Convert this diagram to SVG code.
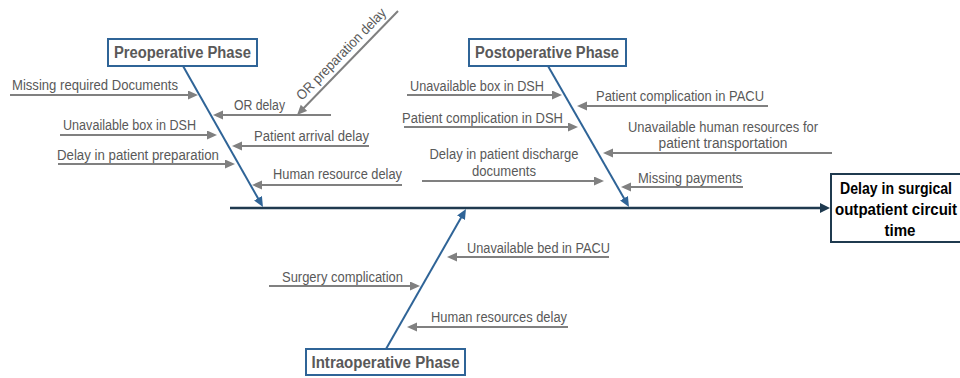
<svg xmlns="http://www.w3.org/2000/svg" width="960" height="378" viewBox="0 0 960 378">
<defs>
<style>
.lbl{font-family:"Liberation Sans","Open Sans",Arial,sans-serif;font-size:14px;fill:#595959}
.ttl{font-family:"Liberation Sans","Open Sans",Arial,sans-serif;font-size:16px;font-weight:bold;fill:#595959}
.eff{font-family:"Liberation Sans","Open Sans",Arial,sans-serif;font-size:16px;font-weight:bold;fill:#000}
.cause{stroke:#808080;stroke-width:2;fill:none}
.bone{stroke:#2f6497;stroke-width:2;fill:none}
.spine{stroke:#1f3a4f;stroke-width:2.5;fill:none}
.box{fill:#fff;stroke:#2f6497;stroke-width:2}
.ebox{fill:#fff;stroke:#1f3a4f;stroke-width:2}
</style>
<marker id="ag" markerUnits="userSpaceOnUse" markerWidth="12" markerHeight="10" refX="2" refY="4.5" orient="auto"><path d="M0,0 L10,4.5 L0,9 z" fill="#808080"/></marker>
<marker id="ab" markerUnits="userSpaceOnUse" markerWidth="12" markerHeight="10" refX="2" refY="4.5" orient="auto"><path d="M0,0 L10,4.5 L0,9 z" fill="#2f6497"/></marker>
<marker id="as" markerUnits="userSpaceOnUse" markerWidth="12" markerHeight="12" refX="2" refY="5" orient="auto"><path d="M0,0 L10,5 L0,10 z" fill="#1f3a4f"/></marker>
</defs>

<g id="connectors">
<line class="spine" x1="230" y1="208" x2="822" y2="208" marker-end="url(#as)"/>
<line class="bone" x1="183" y1="66" x2="259" y2="200" marker-end="url(#ab)"/>
<line class="bone" x1="548" y1="66" x2="625" y2="200" marker-end="url(#ab)"/>
<line class="bone" x1="386" y1="349" x2="462" y2="216" marker-end="url(#ab)"/>

<line class="cause" x1="10" y1="95" x2="190" y2="95" marker-end="url(#ag)"/>
<line class="cause" x1="331" y1="115" x2="221" y2="115" marker-end="url(#ag)"/>
<line class="cause" x1="398" y1="11" x2="302.6" y2="109.3" marker-end="url(#ag)"/>
<line class="cause" x1="60" y1="135" x2="209" y2="135" marker-end="url(#ag)"/>
<line class="cause" x1="369" y1="146" x2="240" y2="146" marker-end="url(#ag)"/>
<line class="cause" x1="58" y1="164" x2="227" y2="164" marker-end="url(#ag)"/>
<line class="cause" x1="402" y1="185" x2="260" y2="185" marker-end="url(#ag)"/>

<line class="cause" x1="407" y1="95" x2="554" y2="95" marker-end="url(#ag)"/>
<line class="cause" x1="768" y1="106" x2="585" y2="106" marker-end="url(#ag)"/>
<line class="cause" x1="404" y1="127" x2="570" y2="127" marker-end="url(#ag)"/>
<line class="cause" x1="832" y1="153" x2="611" y2="153" marker-end="url(#ag)"/>
<line class="cause" x1="422" y1="181" x2="596" y2="181" marker-end="url(#ag)"/>
<line class="cause" x1="743" y1="187" x2="629" y2="187" marker-end="url(#ag)"/>

<line class="cause" x1="609" y1="257" x2="455" y2="257" marker-end="url(#ag)"/>
<line class="cause" x1="269" y1="286" x2="412" y2="286" marker-end="url(#ag)"/>
<line class="cause" x1="568" y1="327" x2="415" y2="327" marker-end="url(#ag)"/>
</g>

<g id="preoperative">
<rect class="box" x="108" y="39" width="149" height="27"/>
<text class="ttl" x="182.5" y="58" text-anchor="middle" textLength="137" lengthAdjust="spacingAndGlyphs">Preoperative Phase</text>
<text class="lbl" x="12" y="90" textLength="166" lengthAdjust="spacingAndGlyphs">Missing required Documents</text>
<text class="lbl" x="234" y="110" textLength="51" lengthAdjust="spacingAndGlyphs">OR delay</text>
<text class="lbl" transform="translate(302,101) rotate(-45.8)" textLength="122" lengthAdjust="spacingAndGlyphs">OR preparation delay</text>
<text class="lbl" x="63" y="130" textLength="133" lengthAdjust="spacingAndGlyphs">Unavailable box in DSH</text>
<text class="lbl" x="254" y="141" textLength="115" lengthAdjust="spacingAndGlyphs">Patient arrival delay</text>
<text class="lbl" x="57" y="160" textLength="162" lengthAdjust="spacingAndGlyphs">Delay in patient preparation</text>
<text class="lbl" x="273" y="179" textLength="129" lengthAdjust="spacingAndGlyphs">Human resource delay</text>
</g>

<g id="postoperative">
<rect class="box" x="469" y="39" width="157" height="27"/>
<text class="ttl" x="547" y="58" text-anchor="middle" textLength="144" lengthAdjust="spacingAndGlyphs">Postoperative Phase</text>
<text class="lbl" x="410" y="91" textLength="134" lengthAdjust="spacingAndGlyphs">Unavailable box in DSH</text>
<text class="lbl" x="596" y="101" textLength="168" lengthAdjust="spacingAndGlyphs">Patient complication in PACU</text>
<text class="lbl" x="402" y="123" textLength="161" lengthAdjust="spacingAndGlyphs">Patient complication in DSH</text>
<text class="lbl" x="723" y="132" text-anchor="middle" textLength="190" lengthAdjust="spacingAndGlyphs">Unavailable human resources for</text>
<text class="lbl" x="723" y="148" text-anchor="middle" textLength="129" lengthAdjust="spacingAndGlyphs">patient transportation</text>
<text class="lbl" x="504" y="159" text-anchor="middle" textLength="149" lengthAdjust="spacingAndGlyphs">Delay in patient discharge</text>
<text class="lbl" x="504" y="176" text-anchor="middle" textLength="64" lengthAdjust="spacingAndGlyphs">documents</text>
<text class="lbl" x="638" y="183" textLength="104" lengthAdjust="spacingAndGlyphs">Missing payments</text>
</g>

<g id="intraoperative">
<rect class="box" x="306" y="349" width="159" height="26"/>
<text class="ttl" x="385.5" y="368" text-anchor="middle" textLength="148" lengthAdjust="spacingAndGlyphs">Intraoperative Phase</text>
<text class="lbl" x="467" y="253" textLength="143" lengthAdjust="spacingAndGlyphs">Unavailable bed in PACU</text>
<text class="lbl" x="282" y="282" textLength="121" lengthAdjust="spacingAndGlyphs">Surgery complication</text>
<text class="lbl" x="431" y="322" textLength="136" lengthAdjust="spacingAndGlyphs">Human resources delay</text>
</g>

<g id="effect">
<rect class="ebox" x="831" y="174" width="140" height="68"/>
<text class="eff" x="896" y="194" text-anchor="middle" textLength="112" lengthAdjust="spacingAndGlyphs">Delay in surgical</text>
<text class="eff" x="896" y="215" text-anchor="middle" textLength="122" lengthAdjust="spacingAndGlyphs">outpatient circuit</text>
<text class="eff" x="900" y="236" text-anchor="middle" textLength="31" lengthAdjust="spacingAndGlyphs">time</text>
</g>
</svg>
